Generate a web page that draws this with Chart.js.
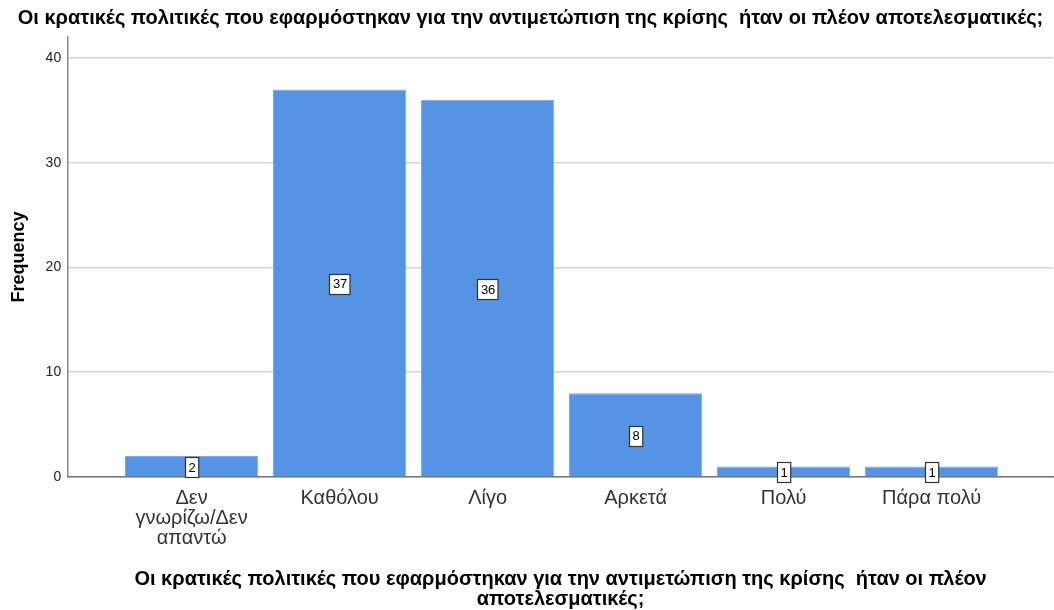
<!DOCTYPE html>
<html>
<head>
<meta charset="utf-8">
<script src="https://cdn.jsdelivr.net/npm/chart.js@4"></script>
<style>
  html, body { margin: 0; padding: 0; background: #fff; }
  #wrap { width: 1054px; height: 610px; }
</style>
</head>
<body>
<div id="wrap"><canvas id="c" width="1054" height="610"></canvas></div>
<script>
const chartTitle = 'Οι κρατικές πολιτικές που εφαρμόστηκαν για την αντιμετώπιση της κρίσης  ήταν οι πλέον αποτελεσματικές;';
const xAxisTitle = ['Οι κρατικές πολιτικές που εφαρμόστηκαν για την αντιμετώπιση της κρίσης  ήταν οι πλέον', 'αποτελεσματικές;'];
const yAxisTitle = 'Frequency';
const categories = [['Δεν', 'γνωρίζω/Δεν', 'απαντώ'], 'Καθόλου', 'Λίγο', 'Αρκετά', 'Πολύ', 'Πάρα πολύ'];
const frequencies = [2, 37, 36, 8, 1, 1];
const yTicks = [0, 10, 20, 30, 40];

const FONT = "'Liberation Sans', Arial, sans-serif";

const labelPlugin = {
  id: 'boxLabels',
  afterDatasetsDraw(chart) {
    const ctx = chart.ctx;
    const meta = chart.getDatasetMeta(0);
    ctx.save();
    ctx.font = '13px ' + FONT;
    ctx.textAlign = 'center';
    ctx.textBaseline = 'middle';
    meta.data.forEach((bar, i) => {
      const txt = String(frequencies[i]);
      const cy = (bar.y + bar.base) / 2 + 1;
      const w = ctx.measureText(txt).width + 6;
      const h = 20;
      const x0 = Math.round(bar.x - w / 2) + 0.5;
      const y0 = Math.round(cy - h / 2) + 0.5;
      ctx.fillStyle = '#ffffff';
      ctx.fillRect(x0, y0, w, h);
      ctx.strokeStyle = '#333333';
      ctx.lineWidth = 1.2;
      ctx.strokeRect(x0, y0, w, h);
      ctx.fillStyle = '#000000';
      ctx.fillText(txt, bar.x + 0.5, cy + 1);
    });
    ctx.restore();
  }
};

new Chart(document.getElementById('c'), {
  type: 'bar',
  data: {
    datasets: [{
      data: frequencies.map((v, i) => ({ x: i, y: v })),
      backgroundColor: '#5594e4',
      borderColor: '#7aaaec',
      borderWidth: 1,
      categoryPercentage: 1,
      barPercentage: 0.9
    }]
  },
  options: {
    responsive: false,
    animation: false,
    layout: { padding: { left: 8, right: 1, top: 0, bottom: 1 } },
    plugins: {
      legend: { display: false },
      tooltip: { enabled: false },
      title: {
        display: true,
        text: chartTitle,
        color: '#000',
        font: { family: FONT, size: 20, weight: 'bold', lineHeight: 1.2 },
        padding: { top: 6, bottom: 7 }
      }
    },
    scales: {
      x: {
        type: 'linear',
        offset: false,
        min: -0.834,
        max: 5.82,
        grid: { display: false, drawTicks: false },
        border: { display: true, color: '#777', width: 1.5 },
        afterBuildTicks(scale) {
          scale.ticks = categories.map((c, i) => ({ value: i }));
        },
        ticks: {
          autoSkip: false,
          maxRotation: 0,
          padding: 11,
          color: '#333',
          font: { family: FONT, size: 20, lineHeight: 1.0 },
          callback: (v) => categories[v]
        },
        title: {
          display: true,
          text: xAxisTitle,
          color: '#000',
          font: { family: FONT, size: 20, weight: 'bold', lineHeight: 1.0 },
          padding: { top: 10, bottom: 0 }
        }
      },
      y: {
        min: 0,
        max: 42,
        grid: { color: '#d4d4d4', lineWidth: 1.5, drawTicks: false },
        border: { display: true, color: '#888', width: 1.5 },
        afterBuildTicks(scale) {
          scale.ticks = yTicks.map(v => ({ value: v }));
        },
        ticks: {
          padding: 7,
          color: '#222',
          font: { family: FONT, size: 14 }
        },
        title: {
          display: true,
          text: yAxisTitle,
          color: '#000',
          font: { family: FONT, size: 18, weight: 'bold' },
          padding: { top: 0, bottom: 9 }
        }
      }
    }
  },
  plugins: [labelPlugin]
});
</script>
</body>
</html>
